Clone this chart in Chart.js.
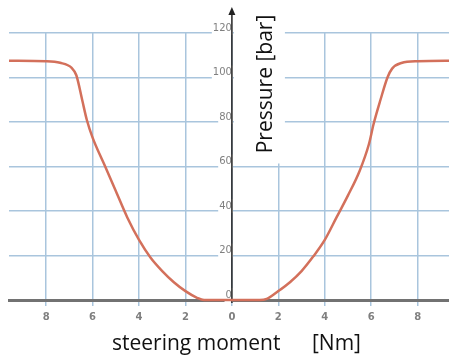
<!DOCTYPE html>
<html>
<head>
<meta charset="utf-8">
<script src="https://cdn.jsdelivr.net/npm/chart.js@4/dist/chart.umd.min.js"></script>
<style>
  html, body { margin: 0; padding: 0; background: #fff; }
  #wrap { width: 449px; height: 356px; }
</style>
</head>
<body>
<div id="wrap"><canvas id="c"></canvas></div>
<script>
// Steering moment (Nm) against assist pressure (bar)
const momentNm    = [-9.6, -8, -7.4, -6.9, -6.7, -6.45, -6.25, -6.0, -5.5, -5.0, -4.5, -4.0, -3.5, -3.0, -2.5, -2.0, -1.5, -1.2, 0,
                     1.2, 1.5, 2.0, 2.5, 3.0, 3.5, 4.0, 4.5, 5.0, 5.5, 5.9, 6.1, 6.4, 6.7, 6.9, 7.3, 8, 9.6];
const pressureBar = [107.5, 107.3, 106.6, 104.3, 101, 90, 81, 73, 61, 49, 37, 27, 19, 13, 8, 4, 1, 0, 0,
                     0, 0.5, 4, 8, 13, 19.5, 27, 37, 47, 58, 70, 79, 90, 100, 104, 106.5, 107.3, 107.5];
const momentTicks   = [-8, -6, -4, -2, 0, 2, 4, 6, 8];
const pressureTicks = [0, 20, 40, 60, 80, 100, 120];

const xTitle = 'steering moment';
const xUnit  = '[Nm]';
const yTitle = 'Pressure [bar]';

const gridBlue = '#a9c5dd';

// Centre axis with arrow head, panel behind the vertical title, and both titles
const axisDecor = {
  id: 'axisDecor',
  beforeDatasetsDraw(chart) {
    const { ctx, scales: { x, y } } = chart;
    const x0 = x.getPixelForValue(0);
    ctx.save();
    ctx.fillStyle = '#fff';
    ctx.fillRect(x0 + 2, 0, 51, y.getPixelForValue(60) - 3);

    ctx.strokeStyle = '#222';
    ctx.lineWidth = 1.5;
    ctx.beginPath();
    ctx.moveTo(x0, y.getPixelForValue(0) + 3);
    ctx.lineTo(x0, 13);
    ctx.stroke();
    ctx.fillStyle = '#222';
    ctx.beginPath();
    ctx.moveTo(x0, 7);
    ctx.lineTo(x0 - 3.5, 15);
    ctx.lineTo(x0 + 3.5, 15);
    ctx.closePath();
    ctx.fill();

    ctx.fillStyle = '#111';
    ctx.font = '21px "Open Sans"';
    ctx.textBaseline = 'alphabetic';
    ctx.textAlign = 'left';
    ctx.fillText(xTitle, 112, 350);
    ctx.fillText(xUnit, 312, 350);

    ctx.translate(272, 84);
    ctx.rotate(-Math.PI / 2);
    ctx.textAlign = 'center';
    ctx.fillText(yTitle, 0, 0);
    ctx.restore();
  }
};

new Chart(document.getElementById('c'), {
  type: 'line',
  data: {
    datasets: [{
      data: momentNm.map((m, i) => ({ x: m, y: pressureBar[i] })),
      borderColor: '#d3705b',
      borderWidth: 2.5,
      pointRadius: 0,
      cubicInterpolationMode: 'monotone',
      clip: { left: 0, top: 5, right: 0, bottom: 5 }
    }]
  },
  options: {
    responsive: true,
    maintainAspectRatio: false,
    animation: false,
    layout: { padding: { top: 33, left: 9, right: 0, bottom: 0 } },
    plugins: { legend: { display: false }, tooltip: { enabled: false } },
    scales: {
      x: {
        type: 'linear',
        min: -9.6,
        max: 9.35,
        afterBuildTicks: s => { s.ticks = momentTicks.map(v => ({ value: v })); },
        afterFit: s => { s.height = 56; },
        grid: { color: gridBlue, lineWidth: 1.5, tickLength: 6, tickColor: gridBlue },
        border: { display: true, color: '#727272', width: 3 },
        ticks: {
          callback: v => String(Math.abs(v)),
          color: '#7f7f7f',
          font: { family: 'DejaVu Sans', size: 10, weight: 'bold' },
          padding: 5,
          maxRotation: 0
        }
      },
      y: {
        type: 'linear',
        position: { x: 0 },
        min: 0,
        max: 120,
        afterBuildTicks: s => { s.ticks = pressureTicks.map(v => ({ value: v })); },
        grid: { color: gridBlue, lineWidth: 1.5, drawTicks: true, tickLength: 3, tickColor: 'rgba(0,0,0,0)' },
        border: { display: false },
        ticks: {
          color: '#808080',
          font: { family: 'DejaVu Sans', size: 10 },
          labelOffset: -5,
          padding: 0,
          showLabelBackdrop: true,
          backdropColor: '#fff',
          backdropPadding: 1
        }
      }
    }
  },
  plugins: [axisDecor]
});
</script>
</body>
</html>
